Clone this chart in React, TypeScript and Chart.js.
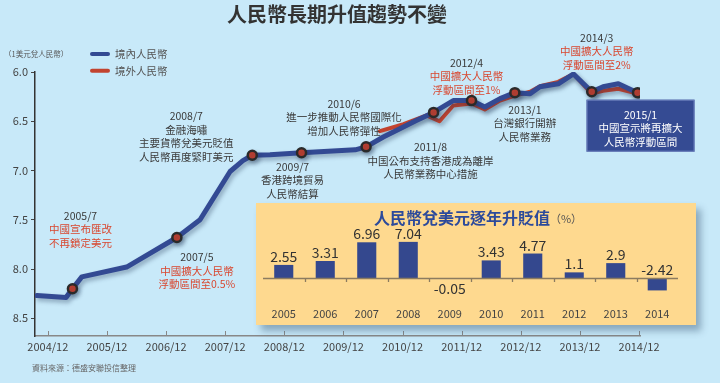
import React, { useEffect, useRef } from 'react';
import { Chart, registerables } from 'chart.js';
Chart.register(...registerables);

const FONT = "'Noto Sans CJK TC', 'Noto Sans', sans-serif";
const NARROW = "'Liberation Sans Narrow', 'Noto Sans CJK TC', sans-serif";

// ---------- text ----------
const chartTitle = '人民幣長期升值趨勢不變';
const unitLabel = '（1美元兌人民幣）';
const sourceLabel = '資料來源：德盛安聯投信整理';

// ---------- axes ----------
const xTickMonths = [0, 12, 24, 36, 48, 60, 72, 84, 96, 108, 120];
const xTickLabels = ['2004/12', '2005/12', '2006/12', '2007/12', '2008/12', '2009/12', '2010/12', '2011/12', '2012/12', '2013/12', '2014/12'];
const yTickValues = [6.0, 6.5, 7.0, 7.5, 8.0, 8.5];

// ---------- series (months after 2004/12, USD/CNY) ----------
const onshoreLabel = '境內人民幣';
const onshoreMonths = [-2.2, 3.7, 5.0, 6.9, 16.0, 26.2, 30.9, 37.0, 39.6, 41.5, 45.1, 51.5, 62.4, 64.6, 68.1, 74.9, 78.3, 82.3, 86.0, 88.7, 91.8, 94.8, 97.9, 99.9, 103.6, 106.7, 110.4, 112.7, 115.8, 119.7];
const onshoreRates = [8.27, 8.29, 8.20, 8.08, 7.98, 7.68, 7.50, 7.01, 6.90, 6.845, 6.84, 6.82, 6.79, 6.76, 6.66, 6.49, 6.41, 6.29, 6.29, 6.355, 6.27, 6.21, 6.22, 6.15, 6.12, 6.02, 6.20, 6.15, 6.12, 6.21];

const offshoreLabel = '境外人民幣';
const offshoreMonths = [67.4, 72.2, 76.9, 79.5, 82.3, 86.0, 88.7, 91.8, 94.8, 97.9, 99.9, 103.6, 106.7, 110.4, 112.7, 115.8, 119.7];
const offshoreRates = [6.60, 6.53, 6.44, 6.50, 6.34, 6.32, 6.38, 6.29, 6.24, 6.20, 6.145, 6.10, 6.02, 6.22, 6.19, 6.17, 6.22];

// ---------- events ----------
const eventDates = ['2005/7', '2007/5', '2008/7', '2009/7', '2010/6', '2011/8', '2012/4', '2013/1', '2014/3', '2015/1'];
const eventPointIndex = [2, 5, 9, 11, 13, 16, 18, 21, 26, 29];
const eventNotes = [
  ['中國宣布匯改', '不再鎖定美元'],
  ['中國擴大人民幣', '浮動區間至0.5%'],
  ['金融海嘯', '主要貨幣兌美元貶值', '人民幣再度緊盯美元'],
  ['香港跨境貿易', '人民幣結算'],
  ['進一步推動人民幣國際化', '增加人民幣彈性'],
  ['中国公布支持香港成為離岸', '人民幣業務中心措施'],
  ['中國擴大人民幣', '浮動區間至1%'],
  ['台灣銀行開辦', '人民幣業務'],
  ['中國擴大人民幣', '浮動區間至2%'],
  ['中國宣示將再擴大', '人民幣浮動區間'],
];

// ---------- inset ----------
const insetTitle = '人民幣兌美元逐年升貶值';
const insetUnit = '（%）';
const insetYears = ['2005', '2006', '2007', '2008', '2009', '2010', '2011', '2012', '2013', '2014'];
const insetChanges = [2.55, 3.31, 6.96, 7.04, -0.05, 3.43, 4.77, 1.1, 2.9, -2.42];

// ---------- styles ----------
const BG = '#C8E9F9';
const BLUE = '#334A93';
const RED = '#C2432F';
const NOTE_RED = '#D9472F';
const NOTE_GRAY = '#3A3A3A';
const YELLOW = '#FED98F';
const BAR = '#34488E';
const eventStyle = [
  { dx: 8, dy: -73, red: true },
  { dx: 20, dy: 20, red: true },
  { dx: -66, dy: -39, red: false },
  { dx: -9, dy: 14, red: false },
  { dx: -22, dy: -43, red: false },
  { dx: -3, dy: 35, red: false },
  { dx: -5, dy: -38, red: true },
  { dx: 10, dy: 17, red: false },
  { dx: 5, dy: -54, red: true },
  { dx: 3, dy: 22, red: false, box: { dx: -51, dy: 7, w: 108, h: 52 } },
];
const LINE_H = 13.5;

const mainDeco = {
  id: 'mainDeco',
  beforeDraw(chart: any) {
    const { ctx, width, height } = chart;
    ctx.save();
    ctx.fillStyle = BG;
    ctx.fillRect(0, 0, width, height);
    ctx.restore();
  },
  beforeDatasetsDraw(chart: any) {
    const ctx = chart.ctx;
    ctx.save();
    ctx.shadowColor = 'rgba(30,50,80,0.35)';
    ctx.shadowBlur = 4;
    ctx.shadowOffsetX = 2;
    ctx.shadowOffsetY = 3;
  },
  afterDatasetsDraw(chart: any) {
    const ctx = chart.ctx;
    ctx.restore();
    const xs = chart.scales.x;
    const ys = chart.scales.y;
    ctx.save();
    ctx.textAlign = 'center';
    ctx.textBaseline = 'middle';
    ctx.font = `10.5px ${FONT}`;
    eventPointIndex.forEach((pi, k) => {
      const px = xs.getPixelForValue(onshoreMonths[pi]);
      const py = ys.getPixelForValue(onshoreRates[pi]);
      const st: any = eventStyle[k];
      const cx = px + st.dx;
      const cy = py + st.dy;
      let headColor = NOTE_GRAY;
      let bodyColor = st.red ? NOTE_RED : NOTE_GRAY;
      if (st.box) {
        ctx.fillStyle = '#354B93';
        ctx.fillRect(px + st.box.dx, py + st.box.dy, st.box.w, st.box.h);
        ctx.strokeStyle = '#6E82BE';
        ctx.lineWidth = 1;
        ctx.strokeRect(px + st.box.dx + 0.5, py + st.box.dy + 0.5, st.box.w - 1, st.box.h - 1);
        headColor = '#FFFFFF';
        bodyColor = '#FFFFFF';
      }
      ctx.fillStyle = headColor;
      ctx.fillText(eventDates[k], cx, cy);
      ctx.fillStyle = bodyColor;
      eventNotes[k].forEach((t, j) => ctx.fillText(t, cx, cy + LINE_H * (j + 1)));
    });
    ctx.restore();
  },
  afterDraw(chart: any) {
    const { ctx, chartArea } = chart;
    const xs = chart.scales.x;
    ctx.save();
    // inner x ticks
    ctx.strokeStyle = '#888';
    ctx.lineWidth = 1;
    xs.ticks.forEach((t: any) => {
      const px = Math.round(xs.getPixelForValue(t.value)) + 0.5;
      ctx.beginPath();
      ctx.moveTo(px, chartArea.bottom - 5);
      ctx.lineTo(px, chartArea.bottom);
      ctx.stroke();
    });
    // title
    ctx.fillStyle = '#333';
    ctx.font = `bold 20px ${FONT}`;
    ctx.textAlign = 'center';
    ctx.textBaseline = 'middle';
    ctx.fillText(chartTitle, 337, 14);
    // unit
    ctx.font = `7.5px ${FONT}`;
    ctx.fillStyle = '#555';
    ctx.textAlign = 'left';
    ctx.fillText(unitLabel, 4, 54);
    // legend
    chart.data.datasets.slice(0, 2).forEach((ds: any, i: number) => {
      const y = 54 + i * 16.7;
      ctx.strokeStyle = ds.borderColor;
      ctx.lineWidth = 4;
      ctx.lineCap = 'round';
      ctx.beginPath();
      ctx.moveTo(92, y);
      ctx.lineTo(108, y);
      ctx.stroke();
      ctx.fillStyle = '#555';
      ctx.font = `10.5px ${FONT}`;
      ctx.fillText(ds.label, 115, y);
    });
    // source
    ctx.font = `8px ${FONT}`;
    ctx.fillStyle = '#666';
    ctx.fillText(sourceLabel, 32, 368);
    ctx.restore();
  },
};

const insetDeco = {
  id: 'insetDeco',
  beforeDraw(chart: any) {
    const { ctx, width, height } = chart;
    ctx.save();
    ctx.fillStyle = YELLOW;
    ctx.fillRect(0, 0, width, height);
    ctx.restore();
  },
  afterDatasetsDraw(chart: any) {
    const { ctx, chartArea } = chart;
    const xs = chart.scales.x;
    const ys = chart.scales.y;
    const zero = Math.round(ys.getPixelForValue(0)) + 0.5;
    ctx.save();
    ctx.strokeStyle = '#8C7C60';
    ctx.lineWidth = 1.3;
    ctx.beginPath();
    ctx.moveTo(chartArea.left, zero);
    ctx.lineTo(chartArea.right, zero);
    ctx.stroke();
    const step = (chartArea.right - chartArea.left) / insetYears.length;
    for (let i = 1; i < insetYears.length; i++) {
      const x = Math.round(chartArea.left + step * i) + 0.5;
      ctx.beginPath();
      ctx.moveTo(x, zero);
      ctx.lineTo(x, zero + 3.5);
      ctx.stroke();
    }
    // value labels
    const meta = chart.getDatasetMeta(0);
    ctx.font = `14px ${FONT}`;
    ctx.fillStyle = '#333';
    ctx.textAlign = 'center';
    ctx.textBaseline = 'alphabetic';
    meta.data.forEach((bar: any, i: number) => {
      const v = insetChanges[i];
      const txt = String(v);
      if (v >= 0) {
        ctx.fillText(txt, bar.x, bar.y - 3);
      } else if (bar.y - bar.base < 8) {
        ctx.fillText(txt, bar.x, bar.y + 16);
      } else {
        ctx.fillText(txt, bar.x, bar.base - 3);
      }
    });
    // title
    ctx.textBaseline = 'middle';
    ctx.font = `bold 16px ${FONT}`;
    const w1 = ctx.measureText(insetTitle).width;
    ctx.font = `11px ${FONT}`;
    const w2 = ctx.measureText(insetUnit).width;
    const start = 222 - (w1 + w2) / 2;
    ctx.textAlign = 'left';
    ctx.font = `bold 16px ${FONT}`;
    ctx.fillStyle = '#2C4A9B';
    ctx.fillText(insetTitle, start, 15);
    ctx.font = `11px ${FONT}`;
    ctx.fillStyle = '#555';
    ctx.fillText(insetUnit, start + w1, 16);
    ctx.restore();
  },
};

export default function App() {
  const mainRef = useRef<HTMLCanvasElement>(null);
  const insetRef = useRef<HTMLCanvasElement>(null);

  useEffect(() => {
    const onshore = onshoreMonths.map((m, i) => ({ x: m, y: onshoreRates[i] }));
    const offshore = offshoreMonths.map((m, i) => ({ x: m, y: offshoreRates[i] }));
    const events = eventPointIndex.map((i) => ({ x: onshoreMonths[i], y: onshoreRates[i] }));
    const main = new Chart(mainRef.current as HTMLCanvasElement, {
      type: 'line',
      data: {
        datasets: [
          { label: onshoreLabel, data: onshore, borderColor: BLUE, borderWidth: 5, pointRadius: 0, tension: 0, order: 1, borderJoinStyle: 'round', borderCapStyle: 'round' } as any,
          { label: offshoreLabel, data: offshore, borderColor: RED, borderWidth: 4, pointRadius: 0, tension: 0, order: 2, borderJoinStyle: 'round', borderCapStyle: 'round' } as any,
          { label: 'events', data: events, showLine: false, pointRadius: 4.5, pointBorderWidth: 2.5, pointBorderColor: '#2A2A2A', pointBackgroundColor: '#C8402D', order: 0 } as any,
        ],
      },
      options: {
        responsive: false,
        animation: false,
        events: [],
        layout: { padding: { top: 72, right: 80, bottom: 27, left: 0 } },
        plugins: { legend: { display: false }, tooltip: { enabled: false }, title: { display: false } },
        scales: {
          x: {
            type: 'linear',
            min: -2.6,
            max: 120.2,
            afterBuildTicks: (s: any) => { s.ticks = xTickMonths.map((v) => ({ value: v })); },
            afterFit: (s: any) => { s.height = 20; },
            ticks: {
              autoSkip: false,
              maxRotation: 0,
              padding: 4,
              color: '#444',
              font: { size: 11, family: NARROW },
              callback: (v: any, i: number) => xTickLabels[i],
            },
            grid: { display: false, drawTicks: false },
            border: { display: true, color: '#888', width: 1.5 },
          },
          y: {
            type: 'linear',
            reverse: true,
            min: 6.0,
            max: 8.68,
            afterBuildTicks: (s: any) => { s.ticks = yTickValues.map((v) => ({ value: v })); },
            afterFit: (s: any) => { s.width = 35; },
            ticks: {
              padding: 3,
              color: '#444',
              font: { size: 11, family: NARROW },
              callback: (v: any) => Number(v).toFixed(1),
            },
            grid: { drawOnChartArea: false, drawTicks: true, tickLength: 4, color: '#444', lineWidth: 1 },
            border: { display: true, color: '#333', width: 1.5 },
          },
        },
      } as any,
      plugins: [mainDeco],
    });

    const inset = new Chart(insetRef.current as HTMLCanvasElement, {
      type: 'bar',
      data: {
        labels: insetYears,
        datasets: [{ data: insetChanges, backgroundColor: BAR, barPercentage: 0.46, categoryPercentage: 1 }],
      },
      options: {
        responsive: false,
        animation: false,
        events: [],
        layout: { padding: { top: 30, right: 18, bottom: 0, left: 7 } },
        plugins: { legend: { display: false }, tooltip: { enabled: false } },
        scales: {
          x: {
            afterFit: (s: any) => { s.height = 22; },
            ticks: { padding: 4, color: '#444', font: { size: 11, family: NARROW } },
            grid: { display: false, drawTicks: false },
            border: { display: false },
          },
          y: { display: false, min: -4.87, max: 8.77 },
        },
      } as any,
      plugins: [insetDeco],
    });

    return () => {
      main.destroy();
      inset.destroy();
    };
  }, []);

  return (
    <div style={{ position: 'absolute', left: 0, top: 0, width: 720, height: 383, background: BG, overflow: 'hidden' }}>
      <canvas ref={mainRef} width={720} height={383} style={{ position: 'absolute', left: 0, top: 0 }} />
      <div
        style={{
          position: 'absolute',
          left: 256,
          top: 203,
          width: 440,
          height: 122,
          background: YELLOW,
          boxShadow: '5px 6px 7px rgba(60,90,120,0.45)',
        }}
      >
        <canvas ref={insetRef} width={440} height={122} style={{ display: 'block' }} />
      </div>
    </div>
  );
}
